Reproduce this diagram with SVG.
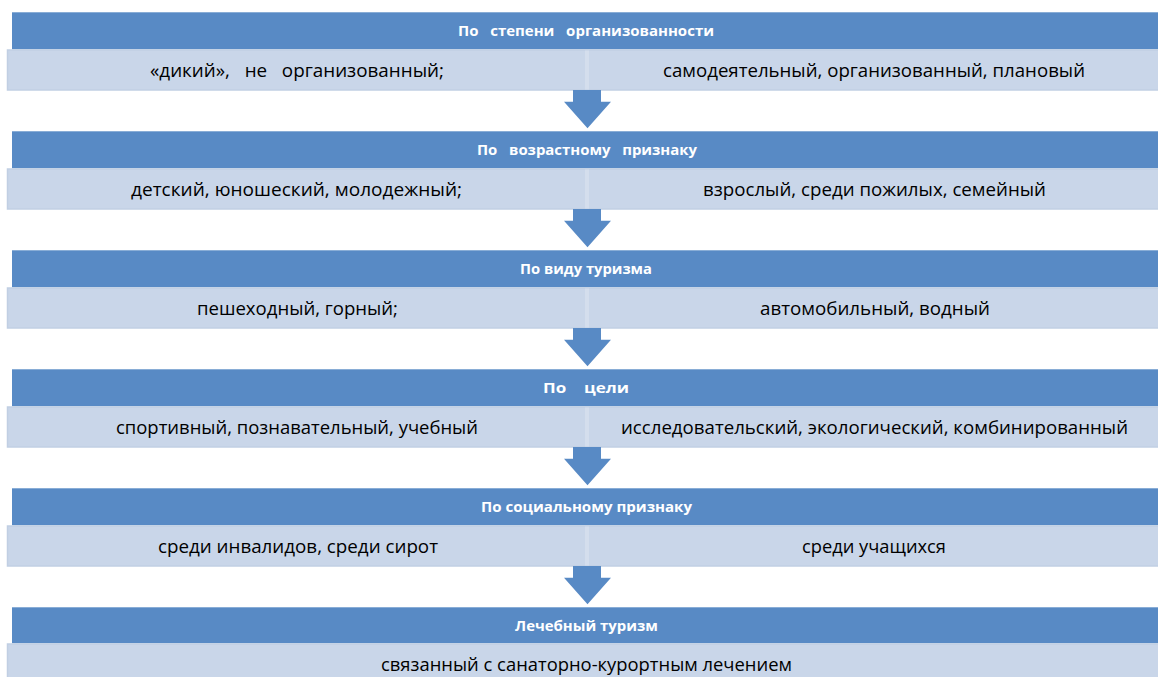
<svg xmlns="http://www.w3.org/2000/svg" width="1158" height="677" viewBox="0 0 1158 677">
<defs>
<style>
.hdr{fill:#588ac5}
.row{fill:#c9d6e9;stroke:#c1cfe3;stroke-width:1.5}
.div{fill:#d4deed}
.ht{font-family:"Open Sans","Liberation Sans",sans-serif;font-size:14.5px;font-weight:bold;fill:#ffffff;text-anchor:start}
.rt{font-family:"Open Sans","Liberation Sans",sans-serif;font-size:18px;fill:#000000;text-anchor:start}
.arr{fill:#588ac5}
</style>
</defs>
<rect width="1158" height="677" fill="#ffffff"/>

<g id="block1">
<rect class="hdr" x="12" y="12.3" width="1150" height="37"/>
<text class="ht" x="458" y="35.5" textLength="256" lengthAdjust="spacingAndGlyphs" xml:space="preserve">По   степени   организованности</text>
<rect class="row" x="7.5" y="50" width="1155" height="40"/>
<rect class="div" x="585" y="50.5" width="4" height="39"/>
<text class="rt" x="150" y="76.5" textLength="294" lengthAdjust="spacingAndGlyphs" xml:space="preserve">«дикий»,   не   организованный;</text>
<text class="rt" x="663" y="76.5" textLength="422" lengthAdjust="spacingAndGlyphs">самодеятельный, организованный, плановый</text>
</g>

<g id="block2">
<rect class="hdr" x="12" y="131.3" width="1150" height="37"/>
<text class="ht" x="477" y="154.5" textLength="220" lengthAdjust="spacingAndGlyphs" xml:space="preserve">По   возрастному   признаку</text>
<rect class="row" x="7.5" y="169" width="1155" height="40"/>
<rect class="div" x="585" y="169.5" width="4" height="39"/>
<text class="rt" x="131" y="195.5" textLength="331" lengthAdjust="spacingAndGlyphs">детский, юношеский, молодежный;</text>
<text class="rt" x="703" y="195.5" textLength="343" lengthAdjust="spacingAndGlyphs">взрослый, среди пожилых, семейный</text>
</g>

<g id="block3">
<rect class="hdr" x="12" y="250.3" width="1150" height="37"/>
<text class="ht" x="520" y="273.5" textLength="132" lengthAdjust="spacingAndGlyphs">По виду туризма</text>
<rect class="row" x="7.5" y="288" width="1155" height="40"/>
<rect class="div" x="585" y="288.5" width="4" height="39"/>
<text class="rt" x="197" y="314.5" textLength="201" lengthAdjust="spacingAndGlyphs">пешеходный, горный;</text>
<text class="rt" x="760" y="314.5" textLength="230" lengthAdjust="spacingAndGlyphs">автомобильный, водный</text>
</g>

<g id="block4">
<rect class="hdr" x="12" y="369.3" width="1150" height="37"/>
<text class="ht" x="543" y="392.5" textLength="86" lengthAdjust="spacingAndGlyphs" xml:space="preserve">По    цели</text>
<rect class="row" x="7.5" y="407" width="1155" height="40"/>
<rect class="div" x="585" y="407.5" width="4" height="39"/>
<text class="rt" x="116" y="433.5" textLength="362" lengthAdjust="spacingAndGlyphs">спортивный, познавательный, учебный</text>
<text class="rt" x="621" y="433.5" textLength="507" lengthAdjust="spacingAndGlyphs">исследовательский, экологический, комбинированный</text>
</g>

<g id="block5">
<rect class="hdr" x="12" y="488.3" width="1150" height="37"/>
<text class="ht" x="481" y="511.5" textLength="211" lengthAdjust="spacingAndGlyphs">По социальному признаку</text>
<rect class="row" x="7.5" y="526" width="1155" height="40"/>
<rect class="div" x="585" y="526.5" width="4" height="39"/>
<text class="rt" x="158" y="552.5" textLength="280" lengthAdjust="spacingAndGlyphs">среди инвалидов, среди сирот</text>
<text class="rt" x="802" y="552.5" textLength="144" lengthAdjust="spacingAndGlyphs">среди учащихся</text>
</g>

<g id="block6">
<rect class="hdr" x="12" y="607.3" width="1150" height="36"/>
<text class="ht" x="515" y="630.5" textLength="143" lengthAdjust="spacingAndGlyphs">Лечебный туризм</text>
<rect class="row" x="7.5" y="644" width="1155" height="40"/>
<text class="rt" x="381" y="670.5" textLength="411" lengthAdjust="spacingAndGlyphs">связанный с санаторно-курортным лечением</text>
</g>

<g id="connectors">
<path class="arr" d="M573,90 H601 V101.7 H611 L587.5,128.3 L564,101.7 H573 Z"/>
<path class="arr" d="M573,209 H601 V220.7 H611 L587.5,247.3 L564,220.7 H573 Z"/>
<path class="arr" d="M573,328 H601 V339.7 H611 L587.5,366.3 L564,339.7 H573 Z"/>
<path class="arr" d="M573,447 H601 V458.7 H611 L587.5,485.3 L564,458.7 H573 Z"/>
<path class="arr" d="M573,566 H601 V577.7 H611 L587.5,604.3 L564,577.7 H573 Z"/>
</g>
</svg>
